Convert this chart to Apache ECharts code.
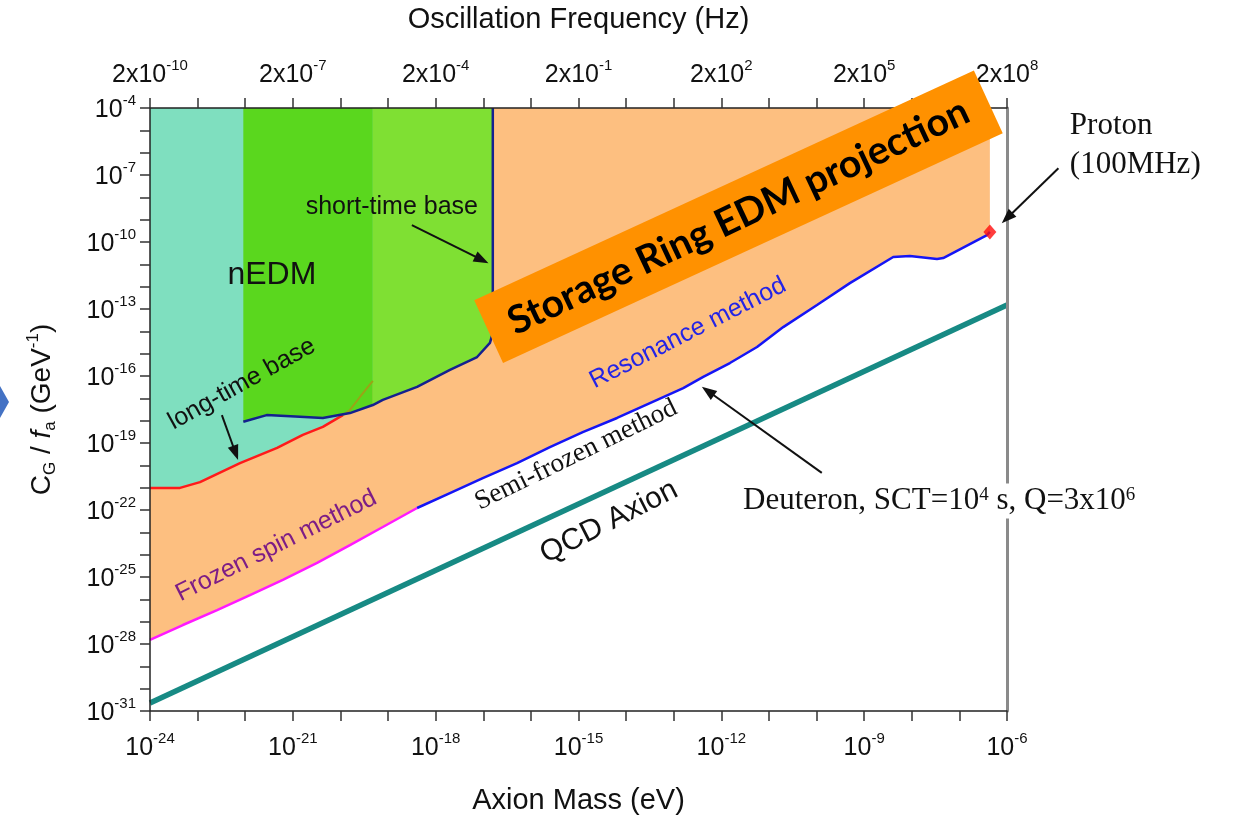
<!DOCTYPE html>
<html><head><meta charset="utf-8">
<script src="https://cdn.jsdelivr.net/npm/echarts@6/dist/echarts.min.js"></script>
<style>html,body{margin:0;padding:0;background:#fff}#c{width:1233px;height:818px}</style>
</head><body><div id="c"></div>
<script>
// All values are log10 of the quantity: x = log10(axion mass / eV), y = log10(C_G/f_a / GeV^-1)
const xMin = -24, xMax = -6, yMin = -31, yMax = -4;
const qcdMass = [-24, -6];
const qcdCoupling = [-30.64, -12.82];
// nEDM long-time base (red)
const longMass = [-24, -23.37, -22.95, -22.11, -21.33, -20.79, -20.37, -19.95];
const longCoup = [-21.01, -21.01, -20.75, -19.90, -19.22, -18.64, -18.28, -17.75];
// continuation seen through the green band (olive)
const longHiddenMass = [-19.95, -19.80, -19.59, -19.32];
const longHiddenCoup = [-17.75, -17.52, -16.94, -16.22];
// nEDM short-time base (navy)
const shortMass = [-22.04, -21.55, -20.85, -20.37, -19.80, -19.32, -19.11, -18.39, -17.70, -17.13, -16.86, -16.80, -16.80];
const shortCoup = [-18.05, -17.75, -17.82, -17.88, -17.66, -17.30, -17.07, -16.49, -15.73, -15.15, -14.52, -14.07, -4];
// Frozen spin method (magenta)
const frozenMass = [-24, -23.31, -22.59, -21.90, -21.21, -20.49, -19.80, -19.11, -18.39];
const frozenCoup = [-27.82, -27.15, -26.48, -25.81, -25.13, -24.37, -23.57, -22.76, -21.91];
// Semi-frozen + resonance method (blue)
const resMass = [-18.39, -17.70, -17.01, -16.29, -15.60, -14.91, -14.19, -13.50, -12.80, -12.38, -11.82, -11.25, -10.70, -9.99, -9.30, -8.39, -8.04, -7.47, -7.34, -6.42, -6.36];
const resCoup = [-21.91, -21.24, -20.57, -19.90, -19.18, -18.51, -17.88, -17.21, -16.54, -16.04, -15.42, -14.70, -13.81, -12.82, -11.84, -10.67, -10.63, -10.76, -10.72, -9.69, -9.55];
// Proton (100 MHz)
const protonMass = [-6.36];
const protonCoup = [-9.55];
// boundary between the two green shades
const greenSplitMass = -19.32;

const pts = (xs, ys) => xs.map((x, i) => [x, ys[i]]);
const SANS = 'Liberation Sans', SERIF = 'Liberation Serif';

const chart = echarts.init(document.getElementById('c'), null, {renderer: 'canvas'});

const tickRich = {
  b: {fontSize: 25, fontFamily: SANS, color: '#111', lineHeight: 30, verticalAlign: 'bottom'},
  s: {fontSize: 15, fontFamily: SANS, color: '#111', lineHeight: 16, verticalAlign: 'top'}
};
const axisCommon = {
  type: 'value', min: xMin, max: xMax, interval: 1, z: 10,
  splitLine: {show: false},
  axisLine: {lineStyle: {color: '#222', width: 1.5}},
  axisTick: {inside: false, length: 10, lineStyle: {color: '#333', width: 1.5}}
};

const shortPts = pts(shortMass, shortCoup);
const darkGreen = shortPts.filter(p => p[0] <= greenSplitMass);
const lightGreen = shortPts.filter(p => p[0] >= greenSplitMass);

const option = {
  animation: false,
  backgroundColor: '#fff',
  grid: {left: 150, right: 226, top: 108, bottom: 107, outerBoundsMode: 'none', containLabel: false},
  xAxis: [
    Object.assign({}, axisCommon, {
      position: 'bottom',
      name: 'Axion Mass (eV)', nameLocation: 'middle', nameGap: 75,
      nameTextStyle: {fontSize: 29, fontFamily: SANS, color: '#111'},
      axisLabel: {margin: 20, rich: tickRich,
        formatter: v => (Math.round(v) % 3 === 0) ? '{b|10}{s|' + Math.round(v) + '}' : ''}
    }),
    Object.assign({}, axisCommon, {
      position: 'top',
      name: 'Oscillation Frequency (Hz)', nameLocation: 'middle', nameGap: 74,
      nameTextStyle: {fontSize: 29, fontFamily: SANS, color: '#111'},
      axisLabel: {margin: 20, rich: tickRich,
        formatter: v => (Math.round(v) % 3 === 0) ? '{b|2x10}{s|' + (Math.round(v) + 14) + '}' : ''}
    })
  ],
  yAxis: [
    {
      type: 'value', min: yMin, max: yMax, interval: 1, position: 'left', z: 10,
      splitLine: {show: false},
      axisLine: {lineStyle: {color: '#222', width: 1.5}},
      axisTick: {inside: false, length: 10, lineStyle: {color: '#333', width: 1.5}},
      axisLabel: {margin: 14, rich: tickRich,
        formatter: v => ((Math.round(v) + 31) % 3 === 0) ? '{b|10}{s|' + Math.round(v) + '}' : ''},
      name: 'C{sub|G} / {it|f}{sub|a} (GeV{sup|-1})', nameLocation: 'middle', nameRotate: 90, nameGap: 91,
      nameTextStyle: {fontSize: 28, fontFamily: SANS, color: '#111',
        rich: {
          sub: {fontSize: 17, fontFamily: SANS, color: '#111', lineHeight: 18, verticalAlign: 'bottom'},
          sup: {fontSize: 17, fontFamily: SANS, color: '#111', lineHeight: 18, verticalAlign: 'top'},
          it: {fontSize: 28, fontFamily: SANS, fontStyle: 'italic', color: '#111', lineHeight: 34}
        }}
    },
    {
      type: 'value', min: yMin, max: yMax, position: 'right', z: 10,
      splitLine: {show: false},
      axisLine: {show: true, lineStyle: {color: '#8a8a8a', width: 3}},
      axisTick: {show: false}, axisLabel: {show: false}
    }
  ],
  series: [
    {name: 'SR EDM projection', type: 'line', data: pts(frozenMass, frozenCoup).concat(pts(resMass, resCoup).slice(1)),
      showSymbol: false, lineStyle: {width: 0}, areaStyle: {origin: 'end', color: '#fdbf80', opacity: 1}, silent: true},
    {name: 'nEDM long', type: 'line', data: pts(longMass, longCoup).concat(pts(longHiddenMass, longHiddenCoup).slice(1)),
      showSymbol: false, lineStyle: {width: 0}, areaStyle: {origin: 'end', color: '#7fdfbf', opacity: 1}, silent: true},
    {name: 'nEDM short A', type: 'line', data: darkGreen,
      showSymbol: false, lineStyle: {width: 0}, areaStyle: {origin: 'end', color: '#5ad71e', opacity: 1}, silent: true},
    {name: 'nEDM short B', type: 'line', data: lightGreen,
      showSymbol: false, lineStyle: {width: 0}, areaStyle: {origin: 'end', color: '#7fe033', opacity: 1}, silent: true},
    {name: 'long-time base', type: 'line', data: pts(longMass, longCoup), showSymbol: false,
      lineStyle: {color: '#ff1a1a', width: 2.5}, silent: true},
    {name: 'long hidden', type: 'line', data: pts(longHiddenMass, longHiddenCoup), showSymbol: false,
      lineStyle: {color: '#9aa416', width: 2}, silent: true},
    {name: 'short-time base', type: 'line', data: shortPts, showSymbol: false,
      lineStyle: {color: '#14208f', width: 2.5}, silent: true},
    {name: 'Frozen spin', type: 'line', data: pts(frozenMass, frozenCoup), showSymbol: false,
      lineStyle: {color: '#ff1aff', width: 2.5}, silent: true},
    {name: 'Resonance', type: 'line', data: pts(resMass, resCoup), showSymbol: false,
      lineStyle: {color: '#1515f5', width: 2.5}, silent: true},
    {name: 'QCD Axion', type: 'line', data: pts(qcdMass, qcdCoupling), showSymbol: false,
      lineStyle: {color: '#178a84', width: 5.5}, silent: true},
    {name: 'Proton', type: 'scatter', data: pts(protonMass, protonCoup), symbol: 'diamond', symbolSize: [13, 15],
      itemStyle: {color: '#ff0d0d'}, z: 5, silent: true}
  ]
};
chart.setOption(option);

// ---------- annotations (positions in data units, converted with the chart's own axes) ----------
const P = (x, y) => chart.convertToPixel({xAxisIndex: 0, yAxisIndex: 0}, [x, y]);
const deg = d => d * Math.PI / 180;
const g = [];
function label(x, y, text, style, rotDeg) {
  const p = P(x, y);
  g.push({type: 'text', x: p[0], y: p[1], rotation: deg(rotDeg || 0), z: 100,
    style: Object.assign({text: text, align: 'center', verticalAlign: 'middle', fill: '#111',
      fontFamily: SANS, fontSize: 25}, style)});
}
function arrow(tx, ty, hx, hy) {
  const a = P(tx, ty), b = P(hx, hy);
  const dx = b[0] - a[0], dy = b[1] - a[1], L = Math.hypot(dx, dy);
  const ux = dx / L, uy = dy / L, hl = 15, hw = 5.5;
  const bx = b[0] - ux * hl, by = b[1] - uy * hl;
  g.push({type: 'line', z: 100, shape: {x1: a[0], y1: a[1], x2: bx + ux * 2, y2: by + uy * 2},
    style: {stroke: '#111', lineWidth: 2}});
  g.push({type: 'polygon', z: 100, shape: {points: [[b[0], b[1]], [bx - uy * hw, by + ux * hw], [bx + uy * hw, by - ux * hw]]},
    style: {fill: '#111'}});
}

label(-21.44, -11.48, 'nEDM', {fontSize: 32});
label(-18.92, -8.43, 'short-time base', {fontSize: 25});
arrow(-18.50, -9.24, -16.89, -10.95);
label(-22.07, -16.36, 'long-time base', {fontSize: 25}, 29);
arrow(-22.49, -17.75, -22.15, -19.76);

// Storage Ring EDM projection banner
const bc = P(-11.64, -8.87);
g.push({type: 'rect', x: bc[0], y: bc[1], rotation: deg(24.7), z: 90,
  shape: {x: -275, y: -34.5, width: 550, height: 69}, style: {fill: '#ff9100'}});
label(-11.64, -8.87, 'Storage Ring EDM projection', {fontFamily: 'Lato', fontWeight: 'bold', fontSize: 39, fill: '#000'}, 25.2);

// Proton
label(-4.68, -4.81, 'Proton', {fontFamily: SERIF, fontSize: 31, align: 'left', fill: '#111'});
label(-4.68, -6.55, '(100MHz)', {fontFamily: SERIF, fontSize: 31, align: 'left', fill: '#111'});
arrow(-4.92, -6.70, -6.11, -9.16);

// Deuteron
label(-11.545, -21.60, 'Deuteron, SCT=10{sup|4} s, Q=3x10{sup|6}', {
  fontFamily: SERIF, fontSize: 31, align: 'left', fill: '#111', backgroundColor: '#fff', padding: [2, 4, 2, 0],
  rich: {sup: {fontFamily: SERIF, fontSize: 19, lineHeight: 18, verticalAlign: 'top', fill: '#111'}}});
arrow(-9.89, -20.34, -12.41, -16.48);

label(-12.70, -14.08, 'Resonance method', {fontSize: 25, fill: '#2424e6'}, 27);
label(-15.05, -19.54, 'Semi-frozen method', {fontFamily: SERIF, fontSize: 27, fill: '#111'}, 26);
label(-21.35, -23.61, 'Frozen spin method', {fontSize: 25, fill: '#7d1d86'}, 26.5);
label(-14.36, -22.54, 'QCD Axion', {fontSize: 30, fill: '#111'}, 27);

// slide decoration at the left edge
g.push({type: 'polygon', z: 100, shape: {points: [[0, 386], [9, 402], [0, 418]]}, style: {fill: '#4472c4'}});

chart.setOption({graphic: g});
</script>
</body></html>
